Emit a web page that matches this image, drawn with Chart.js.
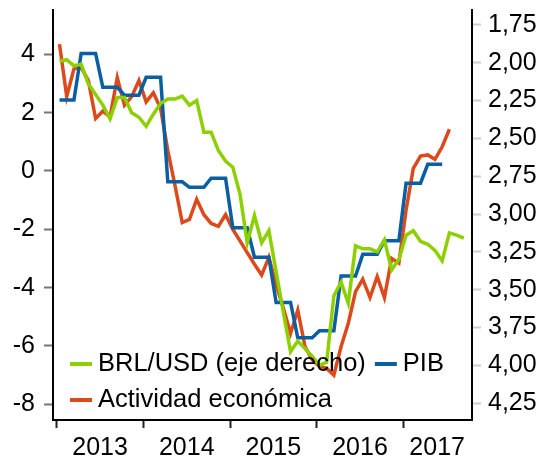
<!DOCTYPE html>
<html>
<head>
<meta charset="utf-8">
<script src="https://cdn.jsdelivr.net/npm/chart.js@4.4.0/dist/chart.umd.min.js"></script>
<style>
  html, body { margin: 0; padding: 0; background: #fff; }
</style>
</head>
<body>
<canvas id="chart" width="541" height="459"></canvas>
<script>
// monthly series, index 0 = Jan 2013
const years = ['2013', '2014', '2015', '2016', '2017'];

// BRL/USD, right axis (inverted)
const brlUsd = [1.99, 1.98, 2.02, 2.01, 2.14, 2.21, 2.28, 2.37, 2.23, 2.23, 2.33, 2.36,
  2.42, 2.34, 2.27, 2.24, 2.24, 2.22, 2.28, 2.25, 2.46, 2.46, 2.58, 2.65,
  2.69, 2.87, 3.19, 3.01, 3.19, 3.11, 3.38, 3.65, 3.91, 3.84, 3.89, 3.94,
  4.00, 3.98, 3.54, 3.45, 3.59, 3.21, 3.23, 3.23, 3.25, 3.17, 3.37, 3.30,
  3.14, 3.11, 3.18, 3.20, 3.24, 3.31, 3.125, 3.14, 3.16];

// PIB, quarterly figures held for each month of the quarter
const pib = [2.43, 2.43, 2.43, 4.03, 4.03, 4.03, 2.87, 2.87, 2.87, 2.60, 2.60, 2.60,
  3.21, 3.21, 3.21, -0.37, -0.37, -0.37, -0.56, -0.56, -0.56, -0.25, -0.25, -0.25,
  -1.95, -1.95, -1.95, -2.96, -2.96, -2.96, -4.51, -4.51, -4.51, -5.72, -5.72, -5.72,
  -5.48, -5.48, -5.48, -3.60, -3.60, -3.60, -2.86, -2.86, -2.86, -2.39, -2.39, -2.39,
  -0.42, -0.42, -0.42, 0.23, 0.23, 0.23];

// Actividad económica
const actividad = [4.35, 2.55, 3.50, 3.55, 3.10, 1.80, 2.05, 1.85, 3.20, 2.25, 2.55, 3.10,
  2.37, 2.68, 2.15, 0.70, -0.50, -1.77, -1.66, -0.97, -1.50, -1.80, -1.90, -1.50,
  -2.00, -2.40, -2.80, -3.20, -3.57, -2.96, -3.90, -4.70, -5.57, -4.77, -6.02, -6.48,
  -6.70, -6.77, -7.00, -6.02, -5.22, -4.14, -3.71, -4.34, -3.62, -4.34, -3.00, -3.16,
  -1.34, 0.09, 0.51, 0.55, 0.40, 0.83, 1.43];

const font = "'Liberation Sans', Arial, sans-serif";

// where the year boundaries and the year names sit on the month axis
const yearTicks = [-0.38, 11.62, 23.62, 35.62, 47.62];
const yearLabelAt = [5.62, 17.62, 29.62, 41.62, 52.3];

function toPoints(values) {
  return values.map((v, i) => ({ x: i, y: v }));
}

// keep the plot box fixed: no extra room for half labels at the ends
function noPad(scale) {
  scale.paddingTop = 0;
  scale.paddingBottom = 0;
  scale.paddingLeft = 0;
  scale.paddingRight = 0;
}

const legendInside = {
  id: 'legendInside',
  afterDraw(chart) {
    const ctx = chart.ctx;
    const ds = chart.data.datasets;
    const rows = [[0, 1], [2]];
    const rowY = [364, 400];
    ctx.save();
    ctx.font = '25.5px ' + font;
    ctx.textBaseline = 'middle';
    ctx.fillStyle = '#000';
    rows.forEach((row, r) => {
      let x = 70;
      row.forEach(k => {
        ctx.strokeStyle = ds[k].borderColor;
        ctx.lineWidth = 4;
        ctx.beginPath();
        ctx.moveTo(x, rowY[r]);
        ctx.lineTo(x + 22, rowY[r]);
        ctx.stroke();
        ctx.fillText(ds[k].label, x + 28, rowY[r]);
        x += 28 + ctx.measureText(ds[k].label).width + 9;
      });
    });
    ctx.restore();
  }
};

new Chart(document.getElementById('chart'), {
  type: 'line',
  data: {
    datasets: [
      { label: 'BRL/USD (eje derecho)', data: toPoints(brlUsd), yAxisID: 'y2',
        borderColor: '#8cd000', borderWidth: 3.5, pointRadius: 0, tension: 0 },
      { label: 'PIB', data: toPoints(pib), yAxisID: 'y',
        borderColor: '#0a5fa3', borderWidth: 3.5, pointRadius: 0, tension: 0 },
      { label: 'Actividad económica', data: toPoints(actividad), yAxisID: 'y',
        borderColor: '#dc4a1c', borderWidth: 3.5, pointRadius: 0, tension: 0 }
    ]
  },
  options: {
    responsive: false,
    devicePixelRatio: 1,
    animation: false,
    layout: { padding: { top: 10, left: 0, right: 0, bottom: 0 } },
    plugins: { legend: { display: false }, tooltip: { enabled: false } },
    scales: {
      x: {
        type: 'linear',
        min: -0.9,
        max: 57.13,
        afterBuildTicks(scale) {
          scale.ticks = yearTicks.concat(yearLabelAt).sort((a, b) => a - b).map(v => ({ value: v }));
        },
        afterFit(scale) { scale.height = 39; noPad(scale); },
        ticks: {
          autoSkip: false,
          maxRotation: 0,
          padding: 5,
          color: '#000',
          font: { family: font, size: 25 },
          callback(value) {
            const k = yearLabelAt.indexOf(value);
            return k >= 0 ? years[k] : '';
          }
        },
        grid: {
          drawOnChartArea: false,
          tickLength: 8,
          tickWidth: 2,
          tickColor: ctx => yearTicks.includes(ctx.tick.value) ? '#222' : 'rgba(0,0,0,0)'
        },
        border: { color: '#000', width: 2 }
      },
      y: {
        position: 'left',
        min: -8.54,
        max: 5.52,
        afterBuildTicks(scale) {
          const t = [];
          for (let v = -8; v <= 5; v++) t.push({ value: v });
          scale.ticks = t;
        },
        afterFit(scale) { scale.width = 53; noPad(scale); },
        ticks: {
          padding: 9,
          color: '#000',
          font: { family: font, size: 25 },
          callback(value) { return value % 2 === 0 ? String(value) : ''; }
        },
        grid: { drawOnChartArea: false, tickLength: 9, tickWidth: 2, tickColor: '#777' },
        border: { color: '#000', width: 2 }
      },
      y2: {
        position: 'right',
        reverse: true,
        min: 1.651,
        max: 4.362,
        afterBuildTicks(scale) {
          const t = [];
          for (let v = 1.75; v <= 4.26; v += 0.25) t.push({ value: v });
          scale.ticks = t;
        },
        afterFit(scale) { scale.width = 69; noPad(scale); },
        ticks: {
          padding: 7,
          color: '#000',
          font: { family: font, size: 25 },
          callback(value) { return value.toFixed(2).replace('.', ','); }
        },
        grid: { drawOnChartArea: false, tickLength: 9, tickWidth: 2, tickColor: '#ccc' },
        border: { color: '#000', width: 2 }
      }
    }
  },
  plugins: [legendInside]
});
</script>
</body>
</html>
